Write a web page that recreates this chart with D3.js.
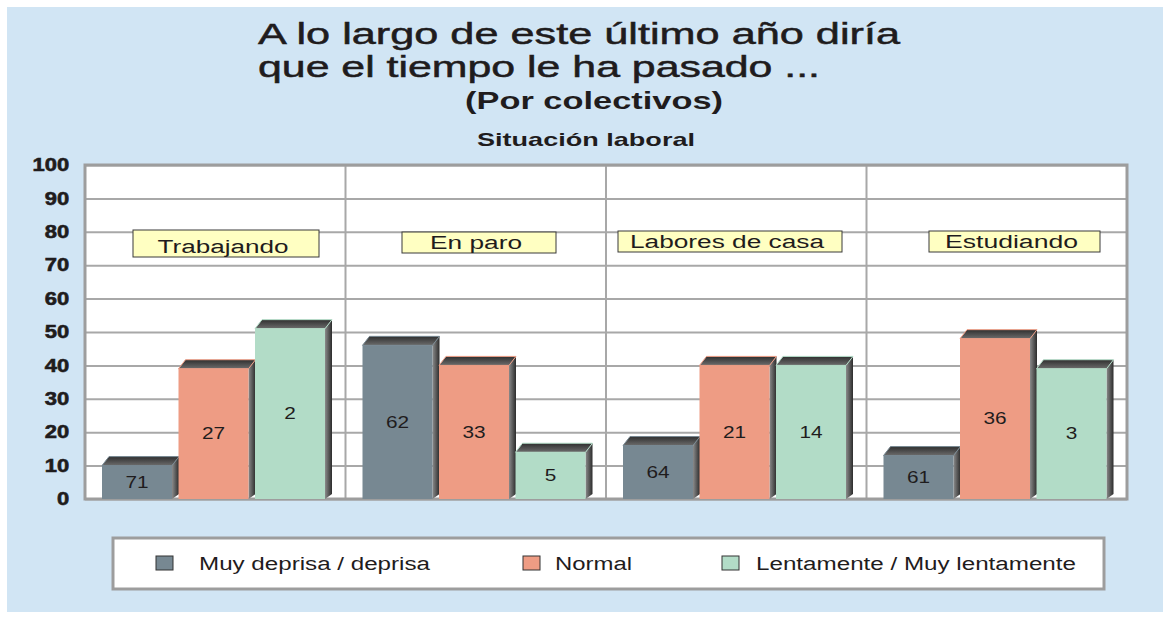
<!DOCTYPE html>
<html>
<head>
<meta charset="utf-8">
<script src="https://cdn.jsdelivr.net/npm/d3@7"></script>
<style>
  body { margin: 0; background: #fff; }
  svg { display: block; }
  text { font-family: "Liberation Sans", Arial, sans-serif; fill: #1f1c1d; }
</style>
</head>
<body>
<svg id="chart" width="1171" height="617"></svg>
<script>
// --- data ---
const categories = ['Trabajando', 'En paro', 'Labores de casa', 'Estudiando'];
const series = ['Muy deprisa / deprisa', 'Normal', 'Lentamente / Muy lentamente'];
// bar heights (as drawn on the 0-100 axis)
const muyDeprisa = [10, 46, 16, 13];
const normal     = [39, 40, 40, 48];
const lentamente = [51, 14, 40, 39];
// numbers printed inside the bars
const muyDeprisaLabels = [71, 62, 64, 61];
const normalLabels     = [27, 33, 21, 36];
const lentamenteLabels = [2, 5, 14, 3];
const yTicks = [0, 10, 20, 30, 40, 50, 60, 70, 80, 90, 100];
const titleLines = ['A lo largo de este último año diría', 'que el tiempo le ha pasado ...'];

const seriesValues = [muyDeprisa, normal, lentamente];
const seriesLabels = [muyDeprisaLabels, normalLabels, lentamenteLabels];
const colors = ['#778892', '#ee9c84', '#b2dcc7'];

// --- layout ---
const plot = { left: 85, right: 1127, top: 165, bottom: 499 };
const depthX = 7, depthY = 9;
const frontW = 70;
// category label boxes, offset from the start of each group
const boxes = [
  { dx: 48,   y: 230, w: 186, h: 27, tw: 131 },
  { dx: 56.5, y: 232, w: 154, h: 21, tw: 92 },
  { dx: 12,   y: 231, w: 224, h: 21, tw: 194 },
  { dx: 62.5, y: 231, w: 171, h: 21, tw: 133 }
];

const svg = d3.select('#chart');

const defs = svg.append('defs');
const topGrad = defs.append('linearGradient').attr('id', 'topGrad')
  .attr('x1', 0).attr('y1', 0).attr('x2', 0).attr('y2', 1);
topGrad.append('stop').attr('offset', '0%').attr('stop-color', '#2f2f2f');
topGrad.append('stop').attr('offset', '100%').attr('stop-color', '#6c6c6c');
const sideGrad = defs.append('linearGradient').attr('id', 'sideGrad')
  .attr('x1', 0).attr('y1', 0).attr('x2', 1).attr('y2', 0);
sideGrad.append('stop').attr('offset', '0%').attr('stop-color', '#8a8a8a');
sideGrad.append('stop').attr('offset', '100%').attr('stop-color', '#2c2c2c');

// background panel
svg.append('rect')
  .attr('x', 7).attr('y', 7).attr('width', 1156).attr('height', 605)
  .attr('fill', '#d1e5f4');

// title, two lines
const titleWidths = [642, 562];
svg.append('g').selectAll('text')
  .data(titleLines)
  .join('text')
  .attr('x', 258)
  .attr('y', (d, i) => 44 + i * 33)
  .attr('font-size', 29.5)
  .attr('stroke', '#1f1c1d').attr('stroke-width', 0.5)
  .attr('textLength', (d, i) => titleWidths[i]).attr('lengthAdjust', 'spacingAndGlyphs')
  .text(d => d);

function stretchText(x, y, str, size, weight, width) {
  svg.append('text')
    .attr('x', x).attr('y', y)
    .attr('font-size', size).attr('font-weight', weight)
    .attr('textLength', width).attr('lengthAdjust', 'spacingAndGlyphs')
    .text(str);
}
stretchText(465, 109, '(Por colectivos)', 24, 'bold', 258);
stretchText(477, 146, 'Situación laboral', 19, 'bold', 218);

// scales
const x0 = d3.scaleBand().domain(categories).range([plot.left, plot.right]);
const x1 = d3.scaleBand().domain(series).range([17, 17 + 3 * 76.5]);
const y = d3.scaleLinear().domain([0, 100]).range([plot.bottom, plot.top]);

// plot area
svg.append('rect')
  .attr('x', plot.left).attr('y', plot.top)
  .attr('width', plot.right - plot.left).attr('height', plot.bottom - plot.top)
  .attr('fill', '#fff');

const gy = svg.append('g')
  .attr('transform', `translate(${plot.left},0)`)
  .call(d3.axisLeft(y).tickValues(yTicks).tickSize(-(plot.right - plot.left)).tickPadding(13));
gy.select('.domain').remove();
gy.selectAll('.tick line').attr('stroke', '#a8a8a8').attr('stroke-width', 2);
gy.selectAll('.tick text')
  .attr('font-family', '"Liberation Sans", Arial, sans-serif')
  .attr('font-size', 18).attr('font-weight', 'bold')
  .attr('fill', '#1f1c1d')
  .attr('stroke', '#1f1c1d').attr('stroke-width', 0.6)
  .attr('transform', 'scale(1.22,1)');

// group separators
svg.append('g').selectAll('line')
  .data(categories.slice(1))
  .join('line')
  .attr('x1', d => x0(d)).attr('x2', d => x0(d))
  .attr('y1', plot.top).attr('y2', plot.bottom)
  .attr('stroke', '#a8a8a8').attr('stroke-width', 2);

// frame
svg.append('rect')
  .attr('x', plot.left).attr('y', plot.top)
  .attr('width', plot.right - plot.left).attr('height', plot.bottom - plot.top)
  .attr('fill', 'none').attr('stroke', '#9d9d9d').attr('stroke-width', 3);

// bars
const barData = [];
categories.forEach((c, i) => {
  series.forEach((s, j) => {
    barData.push({ cat: c, ser: s, j, value: seriesValues[j][i], label: seriesLabels[j][i] });
  });
});

const bar = svg.append('g').selectAll('g')
  .data(barData)
  .join('g')
  .attr('transform', d => `translate(${x0(d.cat) + x1(d.ser)},0)`);

bar.append('path') // side
  .attr('d', d => {
    const t = y(d.value), b = y(0);
    return `M${frontW},${t} L${frontW + depthX},${t - depthY} L${frontW + depthX},${b - depthY + 4} L${frontW},${b} Z`;
  })
  .attr('fill', 'url(#sideGrad)');

bar.append('path') // top
  .attr('d', d => {
    const t = y(d.value);
    return `M0,${t} L${depthX},${t - depthY} L${frontW + depthX},${t - depthY} L${frontW},${t} Z`;
  })
  .attr('fill', 'url(#topGrad)')
  .attr('stroke', d => colors[d.j]).attr('stroke-width', 1);

bar.append('rect') // front
  .attr('x', 0).attr('y', d => y(d.value))
  .attr('width', frontW).attr('height', d => y(0) - y(d.value))
  .attr('fill', d => colors[d.j]);

bar.append('text')
  .attr('transform', d => `translate(${frontW / 2},${(y(d.value) + y(0)) / 2}) scale(1.3,1)`)
  .attr('text-anchor', 'middle').attr('dy', '0.35em')
  .attr('font-size', 16)
  .text(d => d.label);

// category label boxes
const box = svg.append('g').selectAll('g')
  .data(categories)
  .join('g')
  .attr('transform', (d, i) => `translate(${x0(d) + boxes[i].dx},${boxes[i].y})`);
box.append('rect')
  .attr('width', (d, i) => boxes[i].w).attr('height', (d, i) => boxes[i].h)
  .attr('fill', '#ffffc2').attr('stroke', '#3a3a3a').attr('stroke-width', 1);
box.append('text')
  .attr('x', (d, i) => (boxes[i].w - boxes[i].tw) / 2 - 3)
  .attr('y', (d, i) => boxes[i].h - 4)
  .attr('font-size', 18)
  .attr('textLength', (d, i) => boxes[i].tw).attr('lengthAdjust', 'spacingAndGlyphs')
  .text(d => d);

// legend
const legendItems = [
  { sx: 156, tx: 199, tw: 231 },
  { sx: 523, tx: 555, tw: 77 },
  { sx: 722, tx: 756, tw: 320 }
];
svg.append('rect')
  .attr('x', 113).attr('y', 538).attr('width', 991).attr('height', 51)
  .attr('fill', '#fff').attr('stroke', '#9d9d9d').attr('stroke-width', 3);
const lg = svg.append('g').selectAll('g')
  .data(series)
  .join('g');
lg.append('rect')
  .attr('x', (d, i) => legendItems[i].sx).attr('y', 556)
  .attr('width', 17).attr('height', 14)
  .attr('fill', (d, i) => colors[i]).attr('stroke', '#333').attr('stroke-width', 1);
lg.append('text')
  .attr('x', (d, i) => legendItems[i].tx).attr('y', 570)
  .attr('font-size', 18)
  .attr('textLength', (d, i) => legendItems[i].tw).attr('lengthAdjust', 'spacingAndGlyphs')
  .text(d => d);
</script>
</body>
</html>
